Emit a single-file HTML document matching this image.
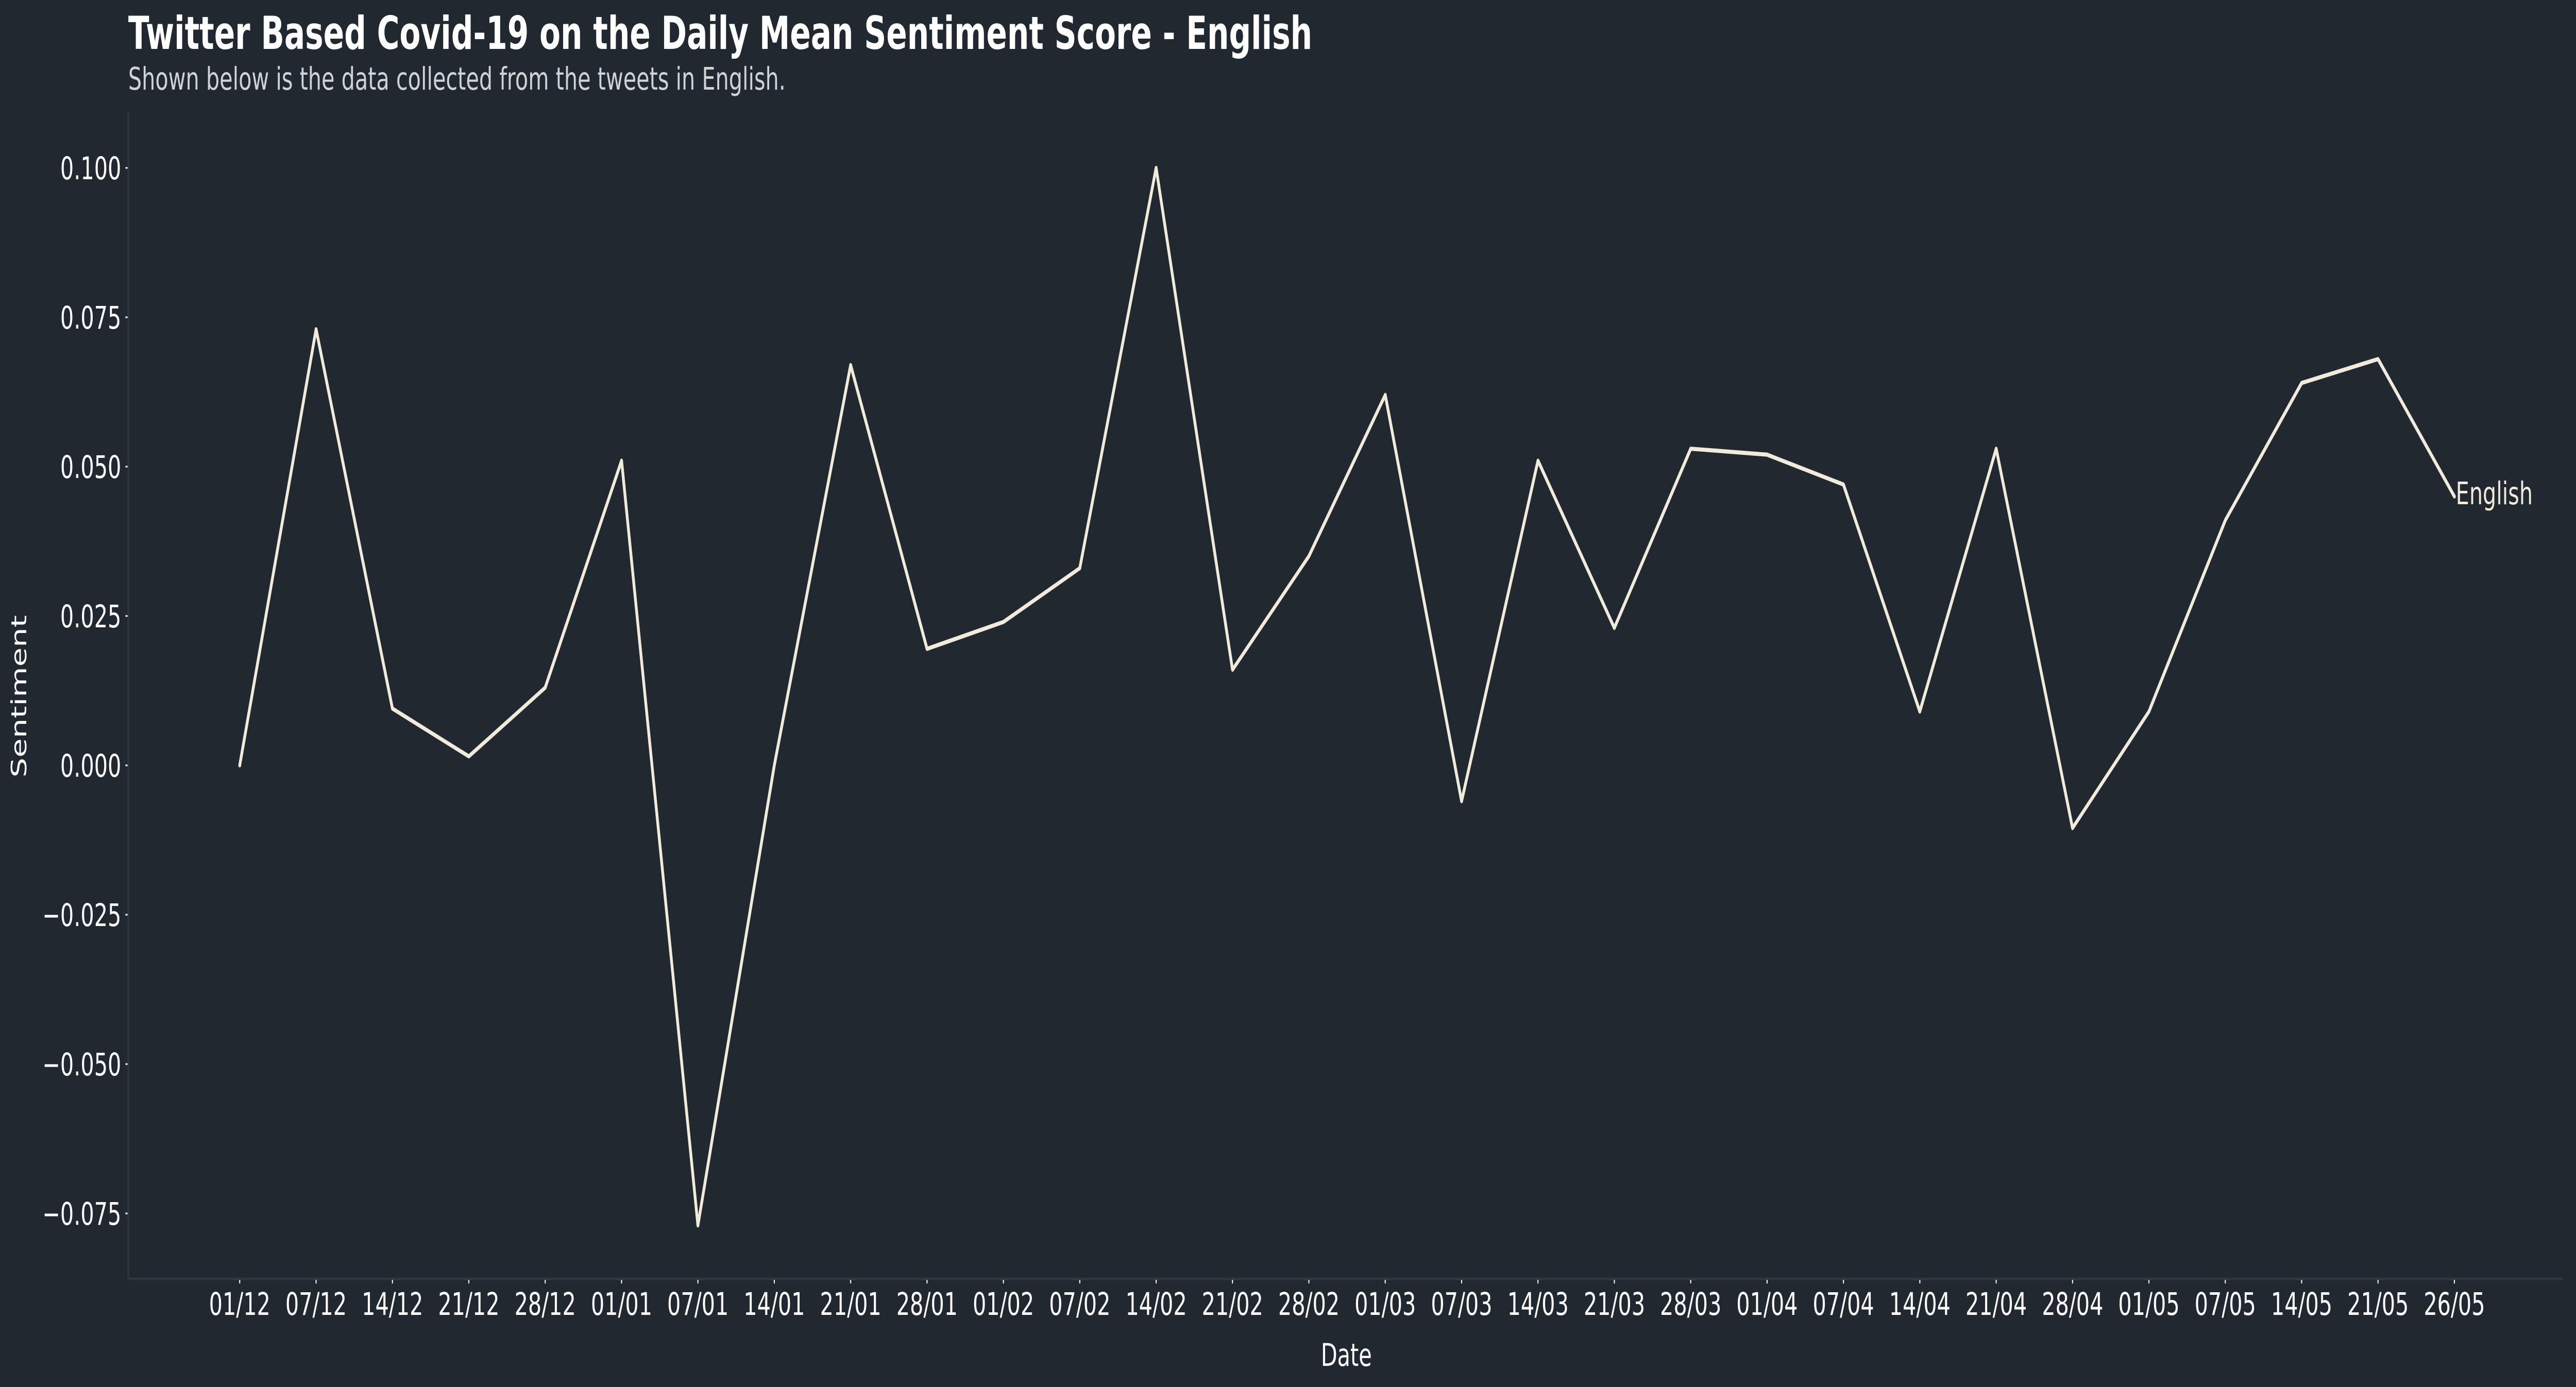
<!DOCTYPE html>
<html><head><meta charset="utf-8"><style>
html,body{margin:0;padding:0;background:#212830;width:100%;height:100%;overflow:hidden;}
svg{display:block;width:100vw;height:100vh;font-family:"DejaVu Sans","Liberation Sans",sans-serif;}
</style></head><body>
<svg id="chart" viewBox="0 0 7372 2693" preserveAspectRatio="none" xmlns="http://www.w3.org/2000/svg">
<rect width="7372" height="2693" fill="#212830"/>
<text x="367" y="95" font-size="88" font-weight="bold" fill="#ffffff">Twitter Based Covid-19 on the Daily Mean Sentiment Score - English</text>
<text x="367" y="174" font-size="61" fill="#d0d3d6">Shown below is the data collected from the tweets in English.</text>
<line x1="367" y1="217" x2="367" y2="2483" stroke="#2e3640" stroke-width="5"/>
<line x1="367" y1="2483" x2="7334" y2="2483" stroke="#2e3640" stroke-width="5"/>
<g id="yticks"></g><g id="xticks"></g><g id="series"></g>
<text x="75" y="1352" font-size="61" fill="#ffffff" text-anchor="middle" transform="rotate(-90 75 1352)">Sentiment</text>
<text x="3853" y="2652" font-size="61" fill="#ffffff" text-anchor="middle">Date</text>
</svg>
<script>
const categories=["01/12","07/12","14/12","21/12","28/12","01/01","07/01","14/01","21/01","28/01","01/02","07/02","14/02","21/02","28/02","01/03","07/03","14/03","21/03","28/03","01/04","07/04","14/04","21/04","28/04","01/05","07/05","14/05","21/05","26/05"];
const englishValues=[0.000,0.073,0.0095,0.0015,0.013,0.051,-0.077,0.000,0.067,0.0195,0.024,0.033,0.100,0.016,0.035,0.062,-0.006,0.051,0.023,0.053,0.052,0.047,0.009,0.053,-0.0105,0.009,0.041,0.064,0.068,0.045];
const yTickValues=[0.100,0.075,0.050,0.025,0.000,-0.025,-0.050,-0.075];
const seriesName="English";

const NS="http://www.w3.org/2000/svg";
function xScale(i){return 686+i*(7024-686)/(categories.length-1);}
function yScale(v){return 1486-v*(290/0.025);}
function mk(tag,attrs,parent){const e=document.createElementNS(NS,tag);for(const k in attrs)e.setAttribute(k,attrs[k]);parent.appendChild(e);return e;}
function fmt(v){const s=Math.abs(v).toFixed(3);return (v<0?"\u2212":"")+s;}

const yg=document.getElementById("yticks");
yTickValues.forEach(v=>{
  const y=yScale(v);
  const t=mk("line",{x1:359,y1:y,x2:365,y2:y,stroke:"#ffffff","stroke-width":3},yg);
  
  
  const l=mk("text",{x:347,y:y+22,"font-size":61,fill:"#ffffff","text-anchor":"end"},yg);
  l.textContent=fmt(v);
  
  
});
const xg=document.getElementById("xticks");
categories.forEach((c,i)=>{
  const x=xScale(i);
  const t=mk("line",{x1:x,y1:2485,x2:x,y2:2492,stroke:"#ffffff","stroke-width":3},xg);
  
  
  const l=mk("text",{x:x,y:2553,"font-size":61,fill:"#ffffff","text-anchor":"middle"},xg);
  l.textContent=c;
  
  
});
const sg=document.getElementById("series");
const pts=englishValues.map((v,i)=>xScale(i).toFixed(1)+","+yScale(v).toFixed(1)).join(" ");
const line=mk("polyline",{points:pts,fill:"none",stroke:"#f1ebdb","stroke-width":8,"stroke-linejoin":"round","stroke-linecap":"round"},sg);


const last=englishValues.length-1;
const lab=mk("text",{x:xScale(last)+4,y:yScale(englishValues[last])+15,"font-size":61,fill:"#f1ebdb"},sg);
lab.textContent=seriesName;


</script>
</body></html>
